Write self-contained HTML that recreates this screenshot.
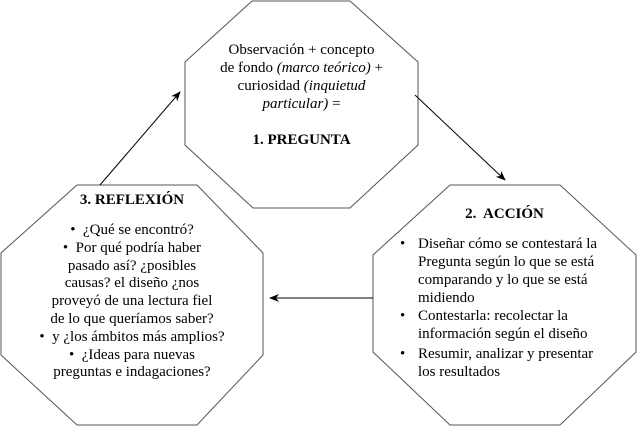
<!DOCTYPE html>
<html><head><meta charset="utf-8"><style>
body{margin:0;width:637px;height:426px;background:#fff;position:relative;overflow:hidden;font-family:"Liberation Serif","Times New Roman",Times,serif;font-size:15px;color:#000}
.t{position:absolute;white-space:nowrap;line-height:18px;font-family:"Liberation Serif","Times New Roman",Times,serif}
.c{text-align:center}
b{font-weight:bold}
</style></head><body>
<svg width="637" height="426" style="position:absolute;left:0;top:0">
<defs><marker id="a" markerWidth="10" markerHeight="8" refX="9" refY="4" orient="auto" markerUnits="userSpaceOnUse"><path d="M0,0 L10,4 L0,8 L3,4 Z" fill="#000"/></marker></defs>
<g fill="none" stroke="#555" stroke-width="1">
<polygon points="252,1 350,1 418,62 418,145 350,208 253,208 185,145 185,62"/>
<polygon points="77,185 197,185 263,253 263,355 197,425 77,425 1,355 1,253"/>
<polygon points="450,185 560,185 636,255 636,352 560,425 450,425 373,352 373,255"/>
</g>
<g stroke="#000" stroke-width="1" fill="none">
<line x1="100" y1="185" x2="180" y2="92" marker-end="url(#a)"/>
<line x1="415" y1="95" x2="505" y2="180" marker-end="url(#a)"/>
<line x1="373" y1="298" x2="270" y2="298" marker-end="url(#a)"/>
</g>
</svg>
<div class="t c" style="left:185px;width:233px;top:41px">Observación + concepto<br>de fondo <i>(marco teórico)</i> +<br>curiosidad <i>(inquietud<br>particular)</i> =</div>
<div class="t c" style="left:185px;width:233px;top:131px"><b>1. PREGUNTA</b></div>
<div class="t c" style="left:1px;width:262px;top:191px"><b>3. REFLEXIÓN</b></div>
<div class="t c" style="left:1px;width:262px;top:222px;line-height:17.8px">•&nbsp; ¿Qué se encontró?<br>•&nbsp; Por qué podría haber<br>pasado así? ¿posibles<br>causas? el diseño ¿nos<br>proveyó de una lectura fiel<br>de lo que queríamos saber?<br>•&nbsp; y ¿los ámbitos más amplios?<br>•&nbsp; ¿Ideas para nuevas<br>preguntas e indagaciones?</div>
<div class="t c" style="left:373px;width:263px;top:205px"><b>2.&nbsp; ACCIÓN</b></div>
<div class="t" style="left:400px;top:235px">•</div>
<div class="t" style="left:418px;top:235px">Diseñar cómo se contestará la<br>Pregunta según lo que se está<br>comparando y lo que se está<br>midiendo</div>
<div class="t" style="left:400px;top:307px">•</div>
<div class="t" style="left:418px;top:307px">Contestarla: recolectar la<br>información según el diseño</div>
<div class="t" style="left:400px;top:345px">•</div>
<div class="t" style="left:418px;top:345px">Resumir, analizar y presentar<br>los resultados</div>
</body></html>
